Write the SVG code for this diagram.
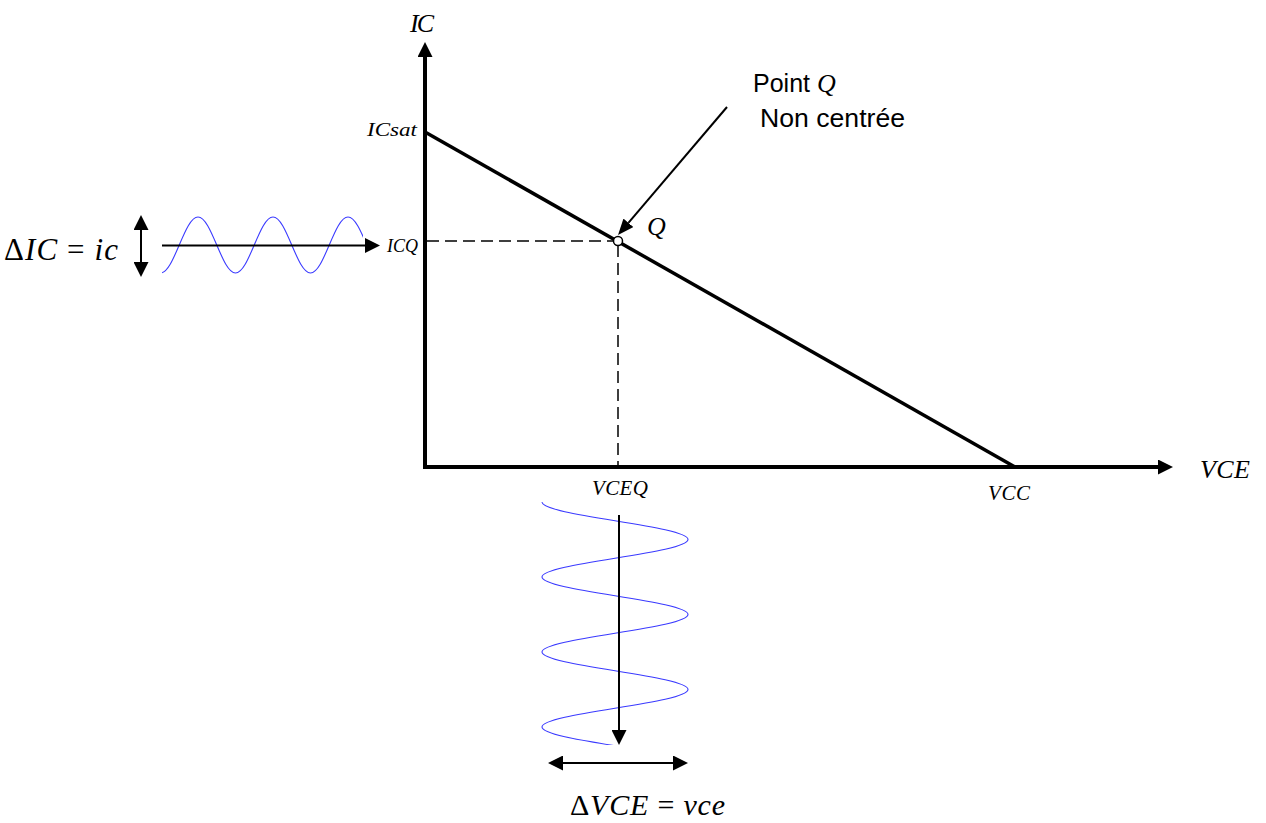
<svg xmlns="http://www.w3.org/2000/svg" width="1266" height="823" viewBox="0 0 1266 823">
<style>
.ax{stroke:#000;stroke-width:4;fill:none}
.load{stroke:#000;stroke-width:3.5;fill:none}
.dash{stroke:#000;stroke-width:1.5;stroke-dasharray:12 6;fill:none}
.thin{stroke:#000;stroke-width:2;fill:none}
.wave{stroke:#3a3aff;stroke-width:1.1;fill:none}
.m{font-family:"Liberation Serif","DejaVu Serif",serif;font-style:italic;fill:#000}
.up{font-style:normal}
.s{font-family:"Liberation Sans",Arial,sans-serif;fill:#000}
</style>
<defs>
<marker id="ah" markerUnits="userSpaceOnUse" markerWidth="15" markerHeight="15" viewBox="0 0 15 15" refX="0" refY="7.5" orient="auto-start-reverse">
<path d="M0,0 L15,7.5 L0,15 z" fill="#000"/>
</marker>
<marker id="ahp" markerUnits="userSpaceOnUse" markerWidth="16" markerHeight="13" viewBox="0 0 16 13" refX="0" refY="6.5" orient="auto">
<path d="M0,0 L16,6.5 L0,13 z" fill="#000"/>
</marker>
<clipPath id="ch"><rect x="162" y="200" width="201" height="90"/></clipPath>
<clipPath id="cv"><rect x="530" y="502" width="170" height="243"/></clipPath>
</defs>

<g id="waves">
<path class="wave" clip-path="url(#ch)" d="M160.5,273 C174.16,273 184.34,217 198,217 C211.66,217 221.84,273 235.5,273 C249.16,273 259.34,217 273,217 C286.66,217 296.84,273 310.5,273 C324.16,273 334.34,217 348,217 C361.66,217 371.84,273 385.5,273"/>
<path class="wave" clip-path="url(#cv)" d="M542,502 C542,515.66 688,525.84 688,539.5 C688,553.16 542,563.34 542,577 C542,590.66 688,600.84 688,614.5 C688,628.16 542,638.34 542,652 C542,665.66 688,675.84 688,689.5 C688,703.16 542,713.34 542,727 C542,740.66 688,750.84 688,764.5"/>
</g>

<g id="connectors">
<line class="ax" x1="425" y1="469" x2="425" y2="57" marker-end="url(#ah)"/>
<line class="ax" x1="423" y1="467" x2="1158" y2="467" marker-end="url(#ah)"/>
<line class="load" x1="425" y1="132" x2="1015" y2="467"/>
<line class="dash" x1="427" y1="241" x2="614" y2="241"/>
<line class="dash" x1="618" y1="245" x2="618" y2="465"/>
<line class="thin" x1="727" y1="107" x2="628.4" y2="222.8" marker-end="url(#ahp)"/>
<line class="thin" x1="162" y1="245.5" x2="365" y2="245.5" marker-end="url(#ah)"/>
<line class="thin" x1="141" y1="230" x2="141" y2="262" marker-start="url(#ah)" marker-end="url(#ah)"/>
<line class="thin" x1="619" y1="515" x2="619" y2="730" marker-end="url(#ah)"/>
<line class="thin" x1="563" y1="763" x2="673" y2="763" marker-start="url(#ah)" marker-end="url(#ah)"/>
</g>

<g id="point-q">
<circle cx="618" cy="241" r="4.5" fill="#fff" stroke="#000" stroke-width="1.5"/>
<text class="m" x="647" y="235" font-size="26">Q</text>
</g>

<g id="annotation">
<text class="s" x="753" y="92" font-size="25">Point <tspan class="m" font-size="26">Q</tspan></text>
<text class="s" x="760" y="127" font-size="25" textLength="145" lengthAdjust="spacingAndGlyphs">Non centrée</text>
</g>

<g id="labels">
<text class="m" x="410" y="32" font-size="26" textLength="24">IC</text>
<text class="m" x="367" y="136" font-size="19" textLength="50" lengthAdjust="spacingAndGlyphs">ICsat</text>
<text class="m" x="387" y="252" font-size="18" textLength="31" lengthAdjust="spacingAndGlyphs">ICQ</text>
<text class="m" x="592" y="495" font-size="21" textLength="56">VCEQ</text>
<text class="m" x="988" y="500" font-size="21" textLength="42">VCC</text>
<text class="m" x="1200" y="478" font-size="26" textLength="50">VCE</text>
<text class="m" x="4" y="260" font-size="31" textLength="114"><tspan class="up">Δ</tspan>IC <tspan class="up">=</tspan> ic</text>
<text class="m" x="570" y="815" font-size="30" textLength="155"><tspan class="up">Δ</tspan>VCE <tspan class="up">=</tspan> vce</text>
</g>
</svg>
